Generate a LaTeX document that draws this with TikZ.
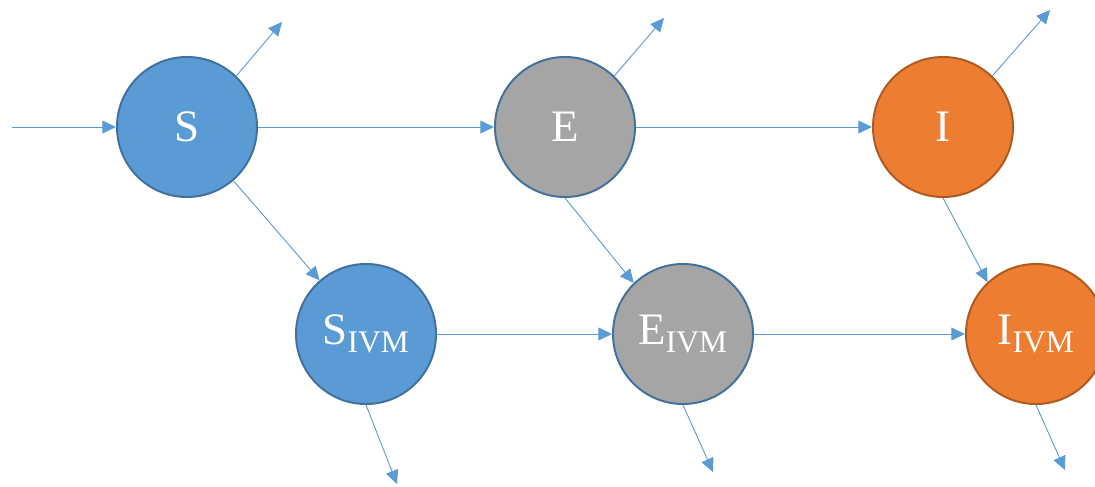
\documentclass[tikz,border=0pt]{standalone}
\usepackage{fontspec}
\setmainfont{Liberation Serif}
\usetikzlibrary{arrows.meta}
\definecolor{sblue}{HTML}{5B9BD5}
\definecolor{edgeblue}{HTML}{41719C}
\definecolor{egray}{HTML}{A5A5A5}
\definecolor{iorange}{HTML}{ED7D31}
\definecolor{edgeorange}{HTML}{AE5A21}
\begin{document}
\begin{tikzpicture}[x=0.025cm,y=-0.025cm,
    comp/.style={circle,draw=edgeblue,line width=1.4pt,minimum size=3.5cm,
      inner sep=0pt,text=white,font=\fontsize{32}{36}\selectfont},
    flow/.style={-{Triangle[length=0.34cm,width=0.32cm]},draw=sblue,line width=0.65pt}]
      \useasboundingbox (0,0) rectangle (1095,486);
      \draw
        (187,127) node[comp,fill=sblue] (S){S}
        (565,127) node[comp,fill=egray] (E){E}
        (943,127) node[comp,fill=iorange,draw=edgeorange] (I){I}
        (366,334) node[comp,fill=sblue] (Sv){S\textsubscript{IVM}}
        (683,334) node[comp,fill=egray] (Ev){E\textsubscript{IVM}}
        (1036,334) node[comp,fill=iorange,draw=edgeorange] (Iv){I\textsubscript{IVM}};
      \coordinate (in) at (12,127);
      \coordinate (Sout) at (282,22);
      \coordinate (Eout) at (664,18);
      \coordinate (Iout) at (1050,10);
      \coordinate (Svout) at (397,484);
      \coordinate (Evout) at (713,472);
      \coordinate (Ivout) at (1065,470);
      \begin{scope}[flow]
        \draw (in) to (S);
        \draw (S) to (E);
        \draw (E) to (I);
        \draw (Sv) to (Ev);
        \draw (Ev) to (Iv);
        \draw (S) to (Sv);
        \draw (E.south) to (Ev.134);
        \draw (I.south) to (Iv.133);
        \draw (S.46) to (Sout);
        \draw (E.46) to (Eout);
        \draw (I.46) to (Iout);
        \draw (Sv.south) to (Svout);
        \draw (Ev.south) to (Evout);
        \draw (Iv.south) to (Ivout);
      \end{scope}
    \end{tikzpicture}
\end{document}
